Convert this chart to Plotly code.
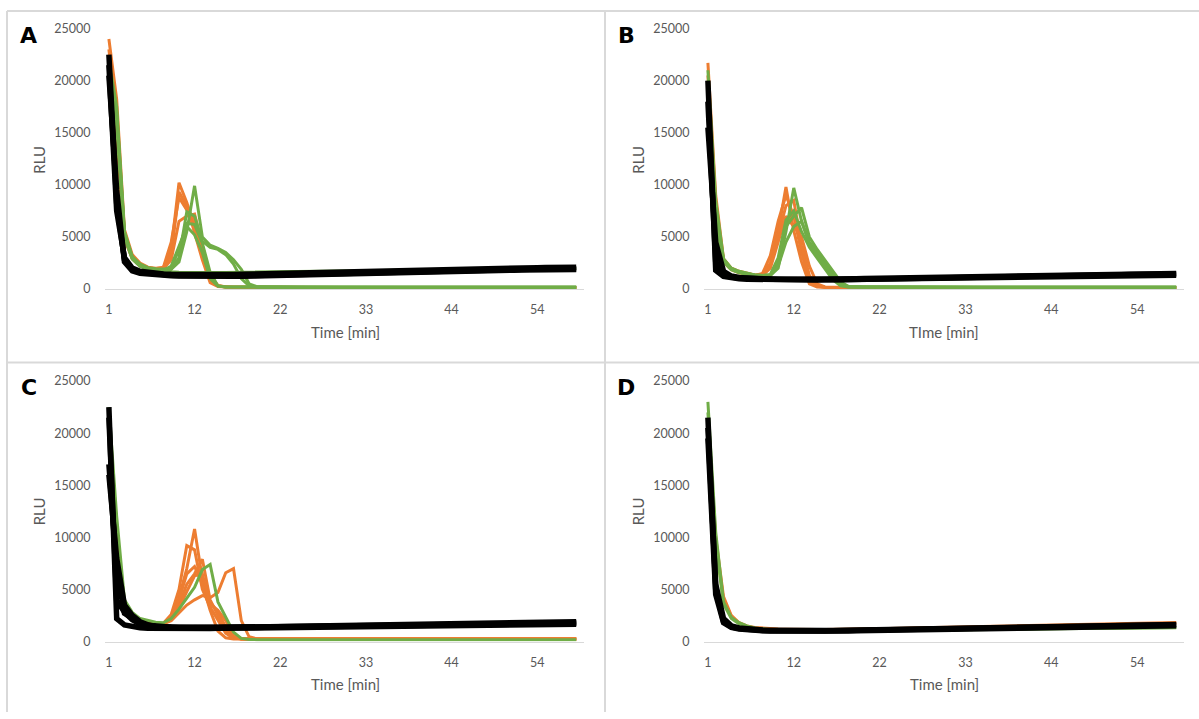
import plotly.graph_objects as go

# ---------------- categories / ticks ----------------
sample_index = list(range(61))               # 61 readings, one per category
x_tick_pos = [0, 11, 22, 33, 44, 55]
x_tick_labels = ["1", "12", "22", "33", "44", "54"]
y_tick_vals = [0, 5000, 10000, 15000, 20000, 25000]
y_tick_labels = ["0", "5000", "10000", "15000", "20000", "25000"]

# ---------------- Panel A ----------------
a_orange_1 = [24000, 18200, 5700, 3300, 2500, 2100, 2000, 2050, 3800, 10200,
              8300, 6000, 3200, 800, 300, 200, 180, 170, 160, 160,
              155, 150, 150, 150, 150, 150, 150, 150, 150, 150,
              150, 150, 150, 150, 150, 150, 150, 150, 150, 150,
              150, 150, 150, 150, 150, 150, 150, 150, 150, 150,
              150, 150, 150, 150, 150, 150, 150, 150, 150, 150,
              150]
a_orange_2 = [23000, 16500, 5200, 3100, 2400, 2050, 1950, 2000, 3300, 9300,
              8000, 5500, 2800, 600, 250, 190, 170, 160, 155, 150,
              150, 150, 150, 150, 150, 150, 150, 150, 150, 150,
              150, 150, 150, 150, 150, 150, 150, 150, 150, 150,
              150, 150, 150, 150, 150, 150, 150, 150, 150, 150,
              150, 150, 150, 150, 150, 150, 150, 150, 150, 150,
              150]
a_orange_3 = [22500, 15500, 5000, 3000, 2300, 2000, 1950, 2100, 4500, 8800,
              7600, 6600, 3500, 1000, 300, 200, 170, 160, 155, 150,
              150, 150, 150, 150, 150, 150, 150, 150, 150, 150,
              150, 150, 150, 150, 150, 150, 150, 150, 150, 150,
              150, 150, 150, 150, 150, 150, 150, 150, 150, 150,
              150, 150, 150, 150, 150, 150, 150, 150, 150, 150,
              150]
a_orange_4 = [22000, 14500, 4800, 2900, 2200, 2000, 1900, 1950, 2800, 6500,
              7000, 7200, 4200, 1300, 350, 200, 170, 160, 150, 150,
              150, 150, 150, 150, 150, 150, 150, 150, 150, 150,
              150, 150, 150, 150, 150, 150, 150, 150, 150, 150,
              150, 150, 150, 150, 150, 150, 150, 150, 150, 150,
              150, 150, 150, 150, 150, 150, 150, 150, 150, 150,
              150]
a_green_1 = [22000, 17500, 5500, 3100, 2400, 2050, 1950, 1900, 1900, 2600,
             5500, 9900, 5000, 4200, 3900, 3500, 2800, 1900, 500, 220,
             200, 190, 185, 180, 180, 180, 180, 180, 180, 180,
             180, 180, 180, 180, 180, 180, 180, 180, 180, 180,
             180, 180, 180, 180, 180, 180, 180, 180, 180, 180,
             180, 180, 180, 180, 180, 180, 180, 180, 180, 180,
             180]
a_green_2 = [21000, 16500, 5300, 3000, 2300, 2000, 1900, 1850, 1900, 3000,
             7400, 7000, 4600, 4000, 3800, 3300, 2400, 1000, 300, 200,
             190, 185, 180, 180, 180, 180, 180, 180, 180, 180,
             180, 180, 180, 180, 180, 180, 180, 180, 180, 180,
             180, 180, 180, 180, 180, 180, 180, 180, 180, 180,
             180, 180, 180, 180, 180, 180, 180, 180, 180, 180,
             180]
a_green_3 = [21500, 17000, 5400, 3050, 2350, 2000, 1900, 1850, 2000, 3800,
             6300, 6200, 4400, 1600, 300, 200, 185, 180, 180, 180,
             180, 180, 180, 180, 180, 180, 180, 180, 180, 180,
             180, 180, 180, 180, 180, 180, 180, 180, 180, 180,
             180, 180, 180, 180, 180, 180, 180, 180, 180, 180,
             180, 180, 180, 180, 180, 180, 180, 180, 180, 180,
             180]
a_green_4 = [20500, 16000, 5000, 2900, 2200, 1950, 1850, 1800, 2200, 4200,
             6000, 5200, 3500, 1000, 280, 200, 185, 180, 180, 180,
             180, 180, 180, 180, 180, 180, 180, 180, 180, 180,
             180, 180, 180, 180, 180, 180, 180, 180, 180, 180,
             180, 180, 180, 180, 180, 180, 180, 180, 180, 180,
             180, 180, 180, 180, 180, 180, 180, 180, 180, 180,
             180]
a_green_5 = [21000, 16000, 5000, 2900, 2200, 1900, 1780, 1700, 1650, 1620,
             1600, 1590, 1580, 1580, 1585, 1590, 1600, 1610, 1620, 1630,
             1640, 1650, 1660, 1670, 1680, 1690, 1700, 1710, 1720, 1730,
             1740, 1750, 1760, 1770, 1780, 1790, 1800, 1810, 1820, 1830,
             1840, 1850, 1860, 1870, 1880, 1890, 1895, 1900, 1905, 1910,
             1915, 1920, 1925, 1930, 1935, 1940, 1945, 1950, 1955, 1960,
             1965]
a_black_1 = [22500, 8200, 2800, 1850, 1600, 1500, 1420, 1370, 1330, 1300,
             1280, 1270, 1260, 1250, 1250, 1255, 1265, 1280, 1300, 1320,
             1340, 1360, 1380, 1400, 1420, 1440, 1460, 1480, 1500, 1520,
             1540, 1560, 1580, 1600, 1610, 1630, 1650, 1660, 1680, 1700,
             1710, 1730, 1740, 1760, 1770, 1790, 1800, 1810, 1820, 1840,
             1850, 1860, 1870, 1880, 1890, 1900, 1910, 1920, 1930, 1940,
             1950]
a_black_2 = [21500, 7500, 3000, 2000, 1700, 1580, 1500, 1450, 1420, 1400,
             1380, 1370, 1360, 1360, 1365, 1375, 1390, 1410, 1430, 1450,
             1470, 1490, 1510, 1530, 1550, 1570, 1590, 1610, 1630, 1650,
             1670, 1690, 1710, 1730, 1750, 1760, 1780, 1800, 1810, 1830,
             1850, 1860, 1880, 1890, 1910, 1920, 1940, 1950, 1970, 1980,
             2000, 2010, 2020, 2030, 2040, 2050, 2060, 2070, 2080, 2090,
             2100]
a_black_3 = [20500, 9500, 2600, 1750, 1520, 1430, 1370, 1320, 1280, 1250,
             1230, 1220, 1210, 1200, 1200, 1205, 1215, 1230, 1250, 1270,
             1290, 1310, 1330, 1350, 1370, 1390, 1410, 1430, 1450, 1470,
             1490, 1510, 1530, 1550, 1560, 1580, 1600, 1610, 1630, 1650,
             1660, 1680, 1690, 1710, 1720, 1740, 1750, 1760, 1770, 1780,
             1790, 1800, 1810, 1820, 1830, 1840, 1850, 1855, 1860, 1870,
             1880]

# ---------------- Panel B ----------------
b_orange_1 = [21700, 9000, 2900, 2000, 1700, 1500, 1350, 1400, 2500, 5500,
              9800, 5600, 2600, 500, 200, 160, 150, 150, 150, 150,
              150, 150, 150, 150, 150, 150, 150, 150, 150, 150,
              150, 150, 150, 150, 150, 150, 150, 150, 150, 150,
              150, 150, 150, 150, 150, 150, 150, 150, 150, 150,
              150, 150, 150, 150, 150, 150, 150, 150, 150, 150,
              150]
b_orange_2 = [20500, 8000, 2800, 1950, 1650, 1450, 1300, 1500, 3200, 6500,
              9000, 7000, 3500, 800, 250, 170, 150, 150, 150, 150,
              150, 150, 150, 150, 150, 150, 150, 150, 150, 150,
              150, 150, 150, 150, 150, 150, 150, 150, 150, 150,
              150, 150, 150, 150, 150, 150, 150, 150, 150, 150,
              150, 150, 150, 150, 150, 150, 150, 150, 150, 150,
              150]
b_orange_3 = [19500, 7000, 2700, 1900, 1600, 1400, 1300, 1350, 2200, 5000,
              8000, 8500, 4200, 1300, 300, 180, 160, 150, 150, 150,
              150, 150, 150, 150, 150, 150, 150, 150, 150, 150,
              150, 150, 150, 150, 150, 150, 150, 150, 150, 150,
              150, 150, 150, 150, 150, 150, 150, 150, 150, 150,
              150, 150, 150, 150, 150, 150, 150, 150, 150, 150,
              150]
b_orange_4 = [19000, 6500, 2600, 1850, 1550, 1400, 1300, 1300, 2000, 4500,
              7000, 6000, 5000, 2200, 500, 200, 160, 150, 150, 150,
              150, 150, 150, 150, 150, 150, 150, 150, 150, 150,
              150, 150, 150, 150, 150, 150, 150, 150, 150, 150,
              150, 150, 150, 150, 150, 150, 150, 150, 150, 150,
              150, 150, 150, 150, 150, 150, 150, 150, 150, 150,
              150]
b_green_1 = [21000, 8500, 2900, 2000, 1700, 1500, 1350, 1300, 1300, 2000,
             5500, 9700, 6500, 4500, 3500, 2500, 1500, 600, 250, 200,
             190, 185, 180, 180, 180, 180, 180, 180, 180, 180,
             180, 180, 180, 180, 180, 180, 180, 180, 180, 180,
             180, 180, 180, 180, 180, 180, 180, 180, 180, 180,
             180, 180, 180, 180, 180, 180, 180, 180, 180, 180,
             180]
b_green_2 = [20000, 7500, 2800, 1950, 1650, 1450, 1350, 1300, 1350, 2500,
             6000, 7000, 7800, 5000, 3800, 2800, 1700, 700, 250, 200,
             190, 185, 180, 180, 180, 180, 180, 180, 180, 180,
             180, 180, 180, 180, 180, 180, 180, 180, 180, 180,
             180, 180, 180, 180, 180, 180, 180, 180, 180, 180,
             180, 180, 180, 180, 180, 180, 180, 180, 180, 180,
             180]
b_green_3 = [19500, 7000, 2700, 1900, 1600, 1450, 1350, 1300, 1400, 3000,
             6600, 7500, 5500, 4000, 3000, 2000, 900, 300, 200, 190,
             185, 180, 180, 180, 180, 180, 180, 180, 180, 180,
             180, 180, 180, 180, 180, 180, 180, 180, 180, 180,
             180, 180, 180, 180, 180, 180, 180, 180, 180, 180,
             180, 180, 180, 180, 180, 180, 180, 180, 180, 180,
             180]
b_green_4 = [18500, 6500, 2600, 1850, 1550, 1400, 1300, 1300, 1300, 2200,
             4500, 6000, 6500, 4300, 3200, 2300, 1200, 400, 200, 190,
             185, 180, 180, 180, 180, 180, 180, 180, 180, 180,
             180, 180, 180, 180, 180, 180, 180, 180, 180, 180,
             180, 180, 180, 180, 180, 180, 180, 180, 180, 180,
             180, 180, 180, 180, 180, 180, 180, 180, 180, 180,
             180]
b_black_1 = [20000, 1800, 1200, 1050, 980, 940, 920, 900, 890, 880,
             875, 870, 870, 870, 875, 880, 890, 900, 910, 920,
             930, 940, 950, 960, 970, 980, 990, 1000, 1010, 1020,
             1030, 1040, 1050, 1060, 1070, 1080, 1090, 1100, 1110, 1120,
             1130, 1140, 1150, 1160, 1170, 1180, 1190, 1200, 1210, 1220,
             1230, 1240, 1250, 1260, 1270, 1280, 1290, 1300, 1310, 1320,
             1330]
b_black_2 = [18000, 2600, 1400, 1150, 1050, 1000, 970, 950, 940, 930,
             925, 920, 920, 925, 930, 940, 950, 960, 970, 985,
             1000, 1010, 1020, 1035, 1050, 1060, 1070, 1085, 1100, 1110,
             1120, 1135, 1150, 1160, 1170, 1185, 1200, 1210, 1220, 1235,
             1250, 1260, 1270, 1285, 1300, 1310, 1320, 1335, 1350, 1360,
             1370, 1385, 1400, 1410, 1420, 1435, 1450, 1460, 1470, 1485,
             1500]
b_black_3 = [15500, 4500, 1700, 1250, 1100, 1020, 980, 950, 930, 910,
             900, 890, 885, 880, 880, 885, 890, 900, 910, 920,
             935, 950, 960, 975, 990, 1000, 1015, 1030, 1040, 1055,
             1070, 1080, 1095, 1110, 1120, 1135, 1150, 1160, 1175, 1190,
             1200, 1215, 1230, 1240, 1255, 1270, 1280, 1295, 1310, 1320,
             1335, 1350, 1360, 1375, 1390, 1400, 1410, 1420, 1430, 1440,
             1450]

# ---------------- Panel C ----------------
c_orange_1 = [21500, 11000, 3500, 2500, 2000, 1800, 1700, 1700, 2300, 4200,
              7000, 10800, 6000, 3800, 2800, 1400, 500, 250, 240, 240,
              240, 240, 240, 240, 240, 240, 240, 240, 240, 240,
              240, 240, 240, 240, 240, 240, 240, 240, 240, 240,
              240, 240, 240, 240, 240, 240, 240, 240, 240, 240,
              240, 240, 240, 240, 240, 240, 240, 240, 240, 240,
              240]
c_orange_2 = [21000, 10000, 3400, 2400, 1950, 1800, 1700, 1750, 2600, 5000,
              9200, 8800, 5000, 3300, 2000, 800, 300, 250, 240, 240,
              240, 240, 240, 240, 240, 240, 240, 240, 240, 240,
              240, 240, 240, 240, 240, 240, 240, 240, 240, 240,
              240, 240, 240, 240, 240, 240, 240, 240, 240, 240,
              240, 240, 240, 240, 240, 240, 240, 240, 240, 240,
              240]
c_orange_3 = [20500, 9500, 3300, 2400, 1950, 1750, 1700, 1700, 2200, 3500,
              5500, 6500, 7900, 4000, 2500, 1000, 350, 250, 240, 240,
              240, 240, 240, 240, 240, 240, 240, 240, 240, 240,
              240, 240, 240, 240, 240, 240, 240, 240, 240, 240,
              240, 240, 240, 240, 240, 240, 240, 240, 240, 240,
              240, 240, 240, 240, 240, 240, 240, 240, 240, 240,
              240]
c_orange_4 = [20000, 9000, 3200, 2300, 1900, 1750, 1650, 1700, 2400, 4000,
              6500, 7200, 5500, 3000, 1000, 350, 250, 240, 240, 240,
              240, 240, 240, 240, 240, 240, 240, 240, 240, 240,
              240, 240, 240, 240, 240, 240, 240, 240, 240, 240,
              240, 240, 240, 240, 240, 240, 240, 240, 240, 240,
              240, 240, 240, 240, 240, 240, 240, 240, 240, 240,
              240]
c_orange_5 = [21000, 10500, 3400, 2450, 2000, 1800, 1700, 1700, 2000, 2800,
              3500, 4000, 4400, 4200, 4700, 6600, 7000, 2000, 450, 250,
              240, 240, 240, 240, 240, 240, 240, 240, 240, 240,
              240, 240, 240, 240, 240, 240, 240, 240, 240, 240,
              240, 240, 240, 240, 240, 240, 240, 240, 240, 240,
              240, 240, 240, 240, 240, 240, 240, 240, 240, 240,
              240]
c_orange_6 = [20500, 9000, 3300, 2350, 1950, 1750, 1650, 1700, 2100, 3200,
              4800, 6300, 6500, 3600, 3000, 2000, 600, 250, 240, 240,
              240, 240, 240, 240, 240, 240, 240, 240, 240, 240,
              240, 240, 240, 240, 240, 240, 240, 240, 240, 240,
              240, 240, 240, 240, 240, 240, 240, 240, 240, 240,
              240, 240, 240, 240, 240, 240, 240, 240, 240, 240,
              240]
c_green_1 = [22500, 12000, 4000, 2800, 2200, 2000, 1850, 1800, 2200, 3100,
             4200, 5200, 6900, 7400, 3800, 2400, 900, 300, 200, 180,
             170, 170, 170, 170, 170, 170, 170, 170, 170, 170,
             170, 170, 170, 170, 170, 170, 170, 170, 170, 170,
             170, 170, 170, 170, 170, 170, 170, 170, 170, 170,
             170, 170, 170, 170, 170, 170, 170, 170, 170, 170,
             170]
c_black_1 = [22500, 2200, 1600, 1400, 1320, 1280, 1260, 1250, 1240, 1240,
             1240, 1240, 1245, 1250, 1260, 1270, 1280, 1290, 1300, 1310,
             1320, 1330, 1340, 1350, 1360, 1370, 1380, 1390, 1400, 1410,
             1420, 1430, 1440, 1450, 1460, 1470, 1480, 1490, 1500, 1510,
             1520, 1530, 1540, 1550, 1560, 1570, 1580, 1590, 1600, 1605,
             1610, 1615, 1620, 1625, 1630, 1635, 1640, 1645, 1650, 1655,
             1660]
c_black_2 = [21500, 4000, 2800, 2100, 1700, 1500, 1420, 1380, 1360, 1350,
             1345, 1340, 1340, 1345, 1350, 1360, 1370, 1380, 1390, 1400,
             1415, 1430, 1445, 1460, 1475, 1490, 1505, 1520, 1535, 1550,
             1565, 1580, 1595, 1610, 1625, 1640, 1655, 1670, 1685, 1700,
             1710, 1720, 1730, 1740, 1750, 1760, 1770, 1780, 1790, 1800,
             1810, 1820, 1830, 1840, 1850, 1860, 1870, 1880, 1890, 1895,
             1900]
c_black_3 = [17000, 6900, 2700, 2300, 1800, 1550, 1450, 1400, 1370, 1350,
             1340, 1330, 1330, 1335, 1340, 1350, 1360, 1370, 1380, 1390,
             1400, 1410, 1420, 1430, 1440, 1450, 1460, 1470, 1480, 1490,
             1500, 1510, 1520, 1530, 1540, 1550, 1560, 1570, 1580, 1590,
             1600, 1610, 1620, 1630, 1640, 1650, 1660, 1670, 1680, 1690,
             1700, 1710, 1720, 1730, 1740, 1750, 1760, 1770, 1780, 1790,
             1800]
c_black_4 = [16000, 8000, 3500, 2500, 1900, 1600, 1450, 1380, 1350, 1330,
             1320, 1310, 1300, 1300, 1305, 1310, 1320, 1330, 1340, 1350,
             1360, 1370, 1380, 1390, 1400, 1410, 1420, 1430, 1440, 1450,
             1460, 1470, 1480, 1490, 1500, 1510, 1520, 1530, 1540, 1550,
             1560, 1570, 1580, 1590, 1600, 1610, 1620, 1630, 1640, 1650,
             1660, 1670, 1680, 1690, 1700, 1710, 1720, 1730, 1735, 1740,
             1750]

# ---------------- Panel D ----------------
d_orange_1 = [21000, 10000, 4300, 2500, 1800, 1500, 1350, 1280, 1230, 1200,
              1180, 1160, 1150, 1150, 1150, 1155, 1160, 1170, 1180, 1190,
              1200, 1215, 1230, 1245, 1260, 1275, 1290, 1305, 1320, 1335,
              1350, 1365, 1380, 1395, 1410, 1425, 1440, 1455, 1470, 1485,
              1500, 1515, 1530, 1545, 1560, 1575, 1590, 1605, 1620, 1635,
              1650, 1665, 1680, 1695, 1710, 1725, 1740, 1760, 1780, 1800,
              1820]
d_orange_2 = [20000, 9500, 4000, 2400, 1750, 1450, 1300, 1230, 1180, 1150,
              1130, 1120, 1110, 1110, 1110, 1115, 1120, 1130, 1140, 1150,
              1160, 1175, 1190, 1205, 1220, 1235, 1250, 1265, 1280, 1295,
              1310, 1325, 1340, 1355, 1370, 1385, 1400, 1415, 1430, 1445,
              1460, 1475, 1490, 1505, 1520, 1535, 1550, 1565, 1580, 1595,
              1610, 1625, 1640, 1655, 1670, 1685, 1700, 1715, 1730, 1745,
              1760]
d_green_1 = [23000, 10500, 3800, 2300, 1800, 1500, 1300, 1200, 1120, 1080,
             1050, 1030, 1020, 1010, 1000, 1000, 1000, 1005, 1010, 1015,
             1020, 1030, 1040, 1050, 1060, 1070, 1080, 1090, 1100, 1110,
             1120, 1130, 1140, 1150, 1160, 1170, 1180, 1190, 1200, 1210,
             1220, 1225, 1230, 1235, 1240, 1245, 1250, 1255, 1260, 1265,
             1270, 1275, 1280, 1285, 1290, 1295, 1300, 1305, 1310, 1315,
             1320]
d_green_2 = [22000, 9500, 3600, 2200, 1700, 1450, 1280, 1180, 1100, 1060,
             1040, 1020, 1010, 1000, 995, 990, 990, 995, 1000, 1005,
             1010, 1020, 1030, 1040, 1050, 1060, 1070, 1080, 1090, 1100,
             1110, 1120, 1130, 1140, 1150, 1160, 1170, 1180, 1190, 1200,
             1210, 1220, 1230, 1240, 1250, 1260, 1270, 1280, 1290, 1300,
             1305, 1310, 1315, 1320, 1325, 1330, 1335, 1340, 1345, 1350,
             1355]
d_black_1 = [21500, 5000, 1900, 1400, 1250, 1150, 1100, 1060, 1040, 1020,
             1010, 1000, 1000, 1000, 1005, 1010, 1020, 1030, 1040, 1055,
             1070, 1085, 1100, 1115, 1130, 1145, 1160, 1175, 1190, 1205,
             1220, 1235, 1250, 1260, 1270, 1285, 1300, 1310, 1320, 1335,
             1350, 1360, 1370, 1385, 1400, 1410, 1420, 1435, 1450, 1460,
             1470, 1485, 1500, 1510, 1520, 1535, 1550, 1560, 1570, 1585,
             1600]
d_black_2 = [20500, 5500, 2200, 1500, 1300, 1200, 1140, 1100, 1080, 1060,
             1050, 1040, 1040, 1040, 1045, 1050, 1060, 1070, 1080, 1095,
             1110, 1125, 1140, 1155, 1170, 1185, 1200, 1215, 1230, 1245,
             1260, 1275, 1290, 1300, 1310, 1325, 1340, 1350, 1360, 1375,
             1390, 1400, 1410, 1425, 1440, 1450, 1460, 1475, 1490, 1500,
             1510, 1525, 1540, 1550, 1560, 1575, 1590, 1600, 1610, 1625,
             1640]
d_black_3 = [19500, 4500, 1800, 1350, 1200, 1100, 1050, 1020, 1000, 990,
             980, 970, 970, 970, 975, 980, 990, 1000, 1010, 1020,
             1030, 1045, 1060, 1075, 1090, 1100, 1110, 1125, 1140, 1150,
             1160, 1175, 1190, 1200, 1210, 1225, 1240, 1250, 1260, 1275,
             1290, 1300, 1310, 1325, 1340, 1350, 1360, 1375, 1390, 1400,
             1410, 1420, 1430, 1440, 1450, 1460, 1470, 1480, 1490, 1500,
             1510]

# ---------------- figure assembly ----------------
ORANGE = "#ED7D31"
GREEN = "#70AD47"
BLACK = "#000000"
TEXT = "#595959"
BORDER = "#D9D9D9"
W, H = 1199, 719

panels = [
    ("A", [a_orange_1, a_orange_2, a_orange_3, a_orange_4],
     [a_green_1, a_green_2, a_green_3, a_green_4, a_green_5],
     [a_black_1, a_black_2, a_black_3], "Time [min]", (105, 584, 21, 287)),
    ("B", [b_orange_1, b_orange_2, b_orange_3, b_orange_4],
     [b_green_1, b_green_2, b_green_3, b_green_4],
     [b_black_1, b_black_2, b_black_3], "TIme [min]", (704, 1184, 21, 287)),
    ("C", [c_orange_1, c_orange_2, c_orange_3, c_orange_4, c_orange_5, c_orange_6],
     [c_green_1],
     [c_black_1, c_black_2, c_black_3, c_black_4], "Time [min]", (105, 584, 381, 647)),
    ("D", [d_orange_1, d_orange_2],
     [d_green_1, d_green_2],
     [d_black_1, d_black_2, d_black_3], "Time [min]", (704, 1184, 381, 647)),
]
title_centers = [(345, 331), (944, 331), (345, 690), (944, 690)]
rlu_centers = [(39, 155), (638, 155), (39, 514), (638, 514)]
letter_centers = [(28, 28), (626, 28), (29, 388), (626, 388)]

for p in panels:
    for group in p[1:4]:
        for s in group:
            assert len(s) == len(sample_index), (p[0], len(s))

fig = go.Figure()
annotations = []
layout_axes = {}
tick_font = dict(family="Lato, Noto Sans, sans-serif", size=12.5, color=TEXT)
title_font = dict(family="Lato, Noto Sans, sans-serif", size=15, color=TEXT)

for i, (letter, oranges, greens, blacks, xtitle, (l, r, t, b)) in enumerate(panels):
    n = i + 1
    xa = "x" if n == 1 else f"x{n}"
    ya = "y" if n == 1 else f"y{n}"
    for group, color, width in ((oranges, ORANGE, 3), (greens, GREEN, 3), (blacks, BLACK, 5.5)):
        for s in group:
            fig.add_trace(go.Scatter(
                x=sample_index, y=s, mode="lines",
                line=dict(color=color, width=width),
                xaxis=xa, yaxis=ya, showlegend=False, hoverinfo="skip"))
    xkey = "xaxis" if n == 1 else f"xaxis{n}"
    ykey = "yaxis" if n == 1 else f"yaxis{n}"
    layout_axes[xkey] = dict(
        domain=[l / W, r / W], anchor=ya, range=[-0.5, 61],
        tickmode="array", tickvals=x_tick_pos, ticktext=x_tick_labels,
        showline=True, linecolor=BORDER, linewidth=1.3, showgrid=False, zeroline=False,
        ticks="outside", ticklen=9, tickcolor="rgba(0,0,0,0)", tickfont=tick_font,
        fixedrange=True)
    layout_axes[ykey] = dict(
        domain=[1 - b / H, 1 - t / H], anchor=xa, range=[0, 25000],
        tickmode="array", tickvals=y_tick_vals, ticktext=y_tick_labels,
        showline=False, showgrid=False, zeroline=False,
        ticks="outside", ticklen=11, tickcolor="rgba(0,0,0,0)", tickfont=tick_font,
        fixedrange=True)
    tx, ty = title_centers[i]
    annotations.append(dict(text=xtitle, x=tx / W, y=1 - ty / H,
                            xref="paper", yref="paper", showarrow=False, font=title_font,
                            xanchor="center", yanchor="middle"))
    rx, ry = rlu_centers[i]
    annotations.append(dict(text="RLU", x=rx / W, y=1 - ry / H,
                            xref="paper", yref="paper", showarrow=False,
                            font=title_font, textangle=-90,
                            xanchor="center", yanchor="middle"))
    lx, ly = letter_centers[i]
    annotations.append(dict(text=f"<b>{letter}</b>", x=lx / W, y=1 - ly / H,
                            xref="paper", yref="paper", showarrow=False,
                            font=dict(family="DejaVu Sans", size=22, color="#000000"),
                            xanchor="center", yanchor="middle"))

shapes = [
    dict(type="line", xref="paper", yref="paper", x0=7 / W, x1=1, y0=1 - 3 / H, y1=1 - 3 / H,
         line=dict(color=BORDER, width=2)),
    dict(type="line", xref="paper", yref="paper", x0=7 / W, x1=7 / W, y0=0, y1=1 - 3 / H,
         line=dict(color=BORDER, width=2)),
    dict(type="line", xref="paper", yref="paper", x0=605 / W, x1=605 / W, y0=0, y1=1 - 3 / H,
         line=dict(color=BORDER, width=2)),
    dict(type="line", xref="paper", yref="paper", x0=7 / W, x1=1, y0=1 - 362 / H, y1=1 - 362 / H,
         line=dict(color=BORDER, width=2)),
]

fig.update_layout(
    width=W, height=H, autosize=False,
    margin=dict(l=0, r=0, t=0, b=0),
    paper_bgcolor="white", plot_bgcolor="white",
    annotations=annotations, shapes=shapes,
    **layout_axes,
)

fig.write_html(
    "out.html",
    config={"responsive": False, "displayModeBar": False},
    post_script=(
        "document.documentElement.style.margin='0';"
        "document.documentElement.style.overflow='hidden';"
        "document.body.style.margin='0';document.body.style.padding='0';"
        "document.body.style.overflow='hidden';"
        "var gd=document.getElementById('{plot_id}');"
        "gd.style.position='fixed';gd.style.top='0px';gd.style.left='0px';"
    ),
)
